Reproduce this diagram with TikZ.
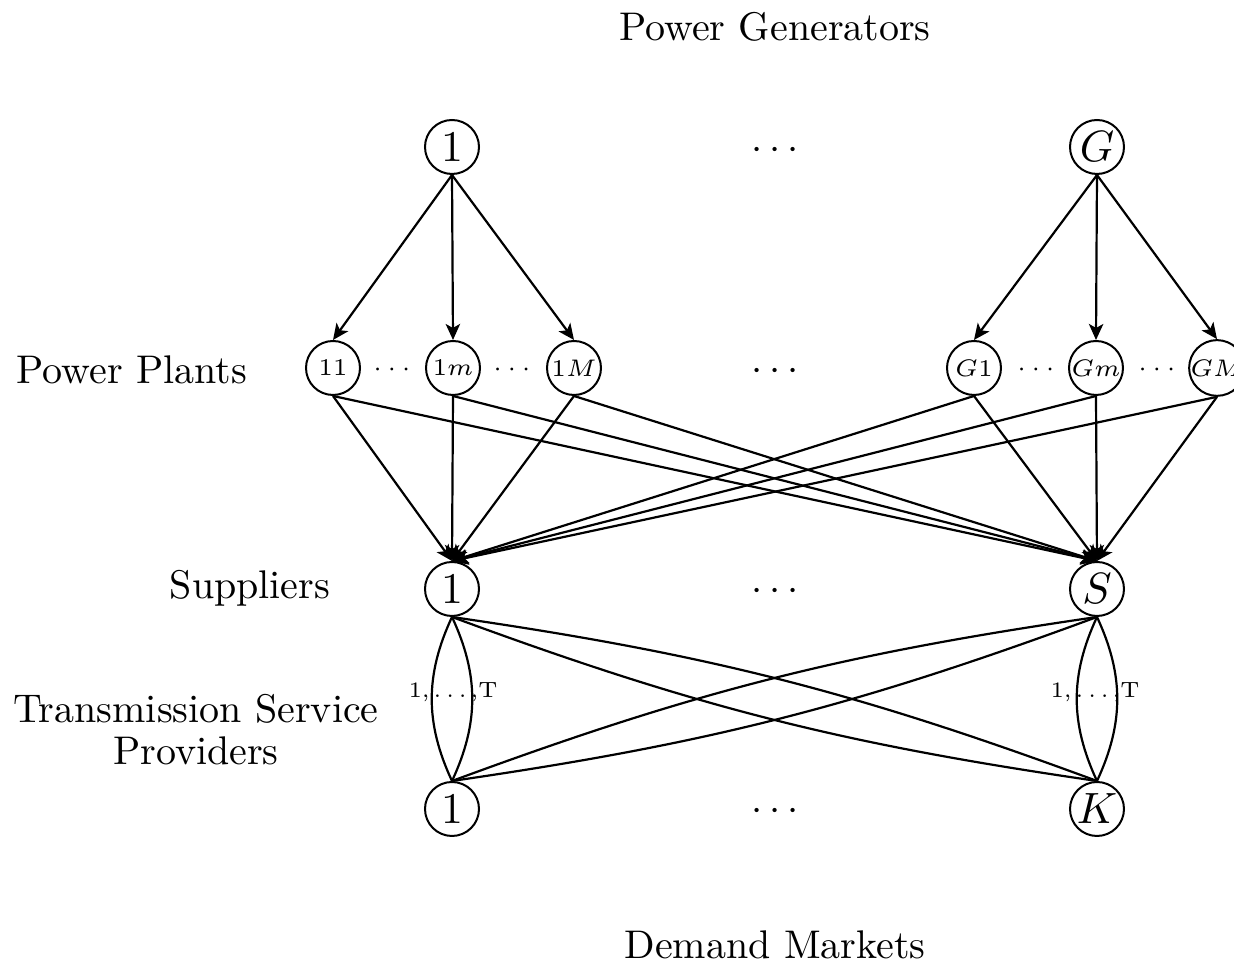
\documentclass[tikz,border=0pt]{standalone}
\usetikzlibrary{arrows.meta}
\begin{document}
\begin{tikzpicture}[x=0.25pt,y=-0.25pt,
  gen/.style={circle,draw,line width=0.5pt,minimum size=13.5pt,inner sep=0pt,font=\fontsize{11}{13}\selectfont},
  plant/.style={circle,draw,line width=0.5pt,minimum size=13.5pt,inner sep=0pt,font=\fontsize{6.5}{8}\selectfont},
  arr/.style={line width=0.55pt,-{Stealth[length=4pt,width=3.6pt,inset=1pt]}},
  link/.style={line width=0.55pt},
  lab/.style={font=\fontsize{10}{12}\selectfont},
  dots/.style={font=\fontsize{10}{12}\selectfont,inner sep=0pt},
  sdots/.style={font=\fontsize{6}{7}\selectfont,inner sep=0pt},
  tlab/.style={font=\fontsize{5.5}{6}\selectfont,inner sep=0pt}
]
\useasboundingbox (0,0) rectangle (1234,969);
% generators
\node[gen] (g1) at (452,147) {$1$};
\node[gen] (gG) at (1097,147) {$G$};
% plants
\node[plant] (p11) at (333,368) {$11$};
\node[plant] (p1m) at (453,368) {$1m$};
\node[plant] (p1M) at (574,368) {$1M$};
\node[plant] (pG1) at (974,368) {$G1$};
\node[plant] (pGm) at (1096,368) {$Gm$};
\node[plant] (pGM) at (1217,368) {$GM$};
% suppliers
\node[gen] (s1) at (452,589) {$1$};
\node[gen] (sS) at (1097,589) {$S$};
% demand markets
\node[gen] (d1) at (452,809) {$1$};
\node[gen] (dK) at (1097,809) {$K$};
% dots
\node[dots] (dg) at (775,151) {$\cdots$};
\node[dots] (dp) at (775,372) {$\cdots$};
\node[dots] (ds) at (775,592) {$\cdots$};
\node[dots] (dd) at (775,812) {$\cdots$};
\node[sdots] (dp1) at (392,370) {$\cdots$};
\node[sdots] (dp2) at (512,370) {$\cdots$};
\node[sdots] (dp3) at (1036,370) {$\cdots$};
\node[sdots] (dp4) at (1157,370) {$\cdots$};
% labels
\node[lab] (tPG) at (775,27) {Power Generators};
\node[lab] (tPP) at (132,370) {Power Plants};
\node[lab] (tS) at (250,588) {Suppliers};
\node[lab,align=center] (tT) at (196,730) {Transmission Service\\[-1.5pt]Providers};
\node[lab] (tD) at (775,945) {Demand Markets};
% generator -> plants
\foreach \p in {p11,p1m,p1M} \draw[arr] (g1.south) -- (\p.north);
\foreach \p in {pG1,pGm,pGM} \draw[arr] (gG.south) -- (\p.north);
% plants -> suppliers
\foreach \p in {p11,p1m,p1M,pG1,pGm,pGM} {
  \draw[arr] (\p.south) -- (s1.north);
  \draw[arr] (\p.south) -- (sS.north);
}
% transmission links
\draw[link] (s1.south) to[bend left=25] (d1.north);
\draw[link] (s1.south) to[bend right=25] (d1.north);
\draw[link] (sS.south) to[bend left=25] (dK.north);
\draw[link] (sS.south) to[bend right=25] (dK.north);
\draw[link] (s1.south) to[bend left=6] (dK.north);
\draw[link] (s1.south) to[bend right=6] (dK.north);
\draw[link] (sS.south) to[bend left=6] (d1.north);
\draw[link] (sS.south) to[bend right=6] (d1.north);
\node[tlab] (t1) at (453,692) {1,\hspace{1pt}.\hspace{1.2pt}.\hspace{1.2pt}.\hspace{1pt},T};
\node[tlab] (t2) at (1095,692) {1,\hspace{1pt}.\hspace{1.2pt}.\hspace{1.2pt}.\hspace{1pt},T};
\end{tikzpicture}
\end{document}
